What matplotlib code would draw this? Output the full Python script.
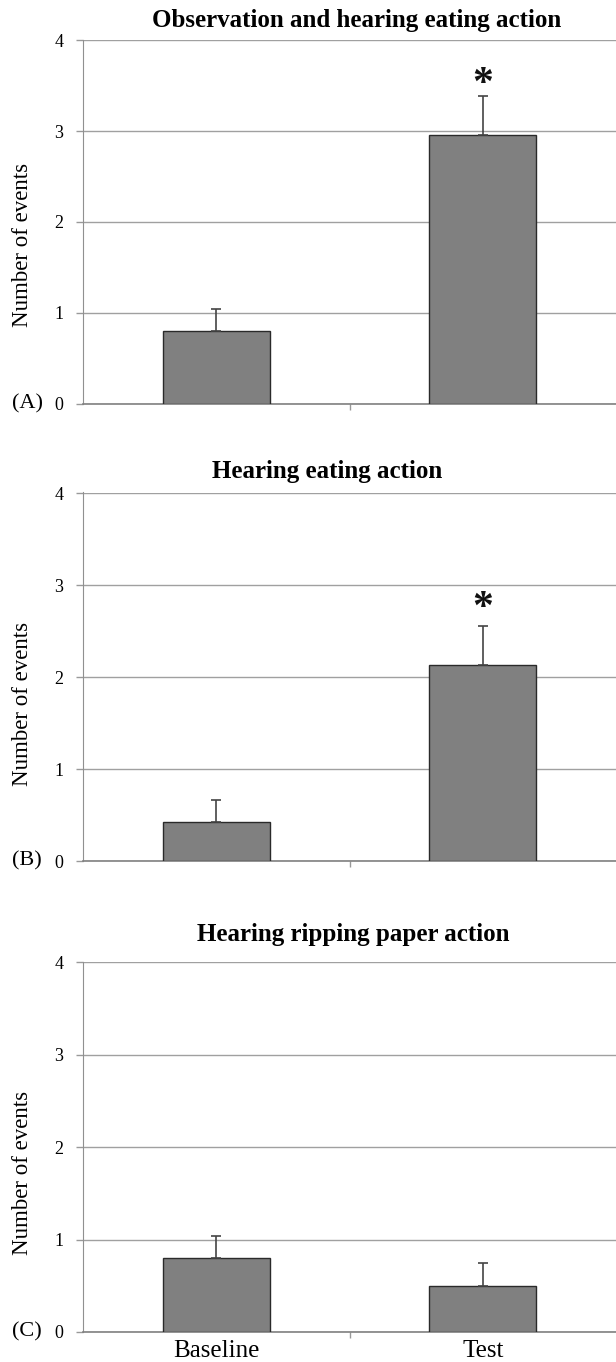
import matplotlib
matplotlib.use("Agg")
import matplotlib.pyplot as plt

categories = ["Baseline", "Test"]
titles = ["Observation and hearing eating action", "Hearing eating action", "Hearing ripping paper action"]
panel_labels = ["(A)", "(B)", "(C)"]
means_A = [0.80, 2.96]
errs_A = [0.24, 0.43]
means_B = [0.42, 2.13]
errs_B = [0.24, 0.43]
means_C = [0.80, 0.50]
errs_C = [0.24, 0.25]
star_A = 3.61
star_B = 2.85
yticks = [0, 1, 2, 3, 4]

plt.rcParams['font.family'] = ['Liberation Serif', 'DejaVu Serif']

fig = plt.figure(figsize=(6.16, 13.62), dpi=100)
H = 1362.0
W = 616.0
boxes = [(39.5, 403.5), (492.5, 861.0), (961.5, 1332.0)]
title_pos = [(357, 27), (327, 478), (353, 941)]  # pixel centre x, baseline y
ylabel_offset = [23, 27, 26]
data = [(means_A, errs_A, star_A), (means_B, errs_B, star_B), (means_C, errs_C, None)]

for i, ((top, bot), (m, e, star)) in enumerate(zip(boxes, data)):
    ax = fig.add_axes([83 / W, 1 - bot / H, (616 - 83) / W, (bot - top) / H])
    x = [0, 1]
    ax.set_xlim(-0.5, 1.5)
    ax.set_ylim(0, 4.008)
    ax.set_axisbelow(True)
    ax.yaxis.grid(True, color='#a0a0a0', lw=1.0)
    ax.bar(x, m, width=0.4, color='#808080', edgecolor='#2a2a2a', lw=1.0, zorder=3)
    ax.errorbar(x, m, yerr=[[0, 0], e], fmt='none', ecolor='#444444', elinewidth=1.2,
                capsize=3.5, capthick=1.2, zorder=4)
    if star is not None:
        ax.annotate('*', xy=(1, star), xytext=(0, -7), textcoords='offset points',
                    ha='center', va='center', fontsize=30, fontweight='bold', color='#111111')
    ax.set_yticks(yticks)
    ax.set_yticklabels([str(t) for t in yticks], fontsize=13)
    ax.set_xticks([0, 1])
    ax.tick_params(axis='x', which='major', length=0)
    if i == 2:
        ax.set_xticklabels(categories, fontsize=18)
        ax.tick_params(axis='x', pad=5.5)
    else:
        ax.set_xticklabels(['', ''])
    ax.set_xticks([0.5], minor=True)
    ax.tick_params(axis='x', which='minor', length=4, color='#999999', width=1)
    ax.tick_params(axis='y', length=5, color='#999999', width=1, pad=9)
    for s in ['top', 'right']:
        ax.spines[s].set_visible(False)
    ax.spines['left'].set_color('#909090')
    ax.spines['bottom'].set_color('#808080')
    ax.spines['bottom'].set_linewidth(1.2)
    hpx = bot - top
    ax.text((22.5 - 83) / 533, 0.5 - ylabel_offset[i] / hpx, 'Number of events', transform=ax.transAxes,
            rotation=90, ha='center', va='center', fontsize=16.5)
    tx, ty = title_pos[i]
    fig.text(tx / W, 1 - ty / H, titles[i], ha='center', va='baseline', fontsize=18, fontweight='bold')
    ax.text(-0.105, 0, panel_labels[i], transform=ax.get_yaxis_transform(), ha='center', va='center',
            fontsize=16)

fig.savefig('out.png', dpi=100)
